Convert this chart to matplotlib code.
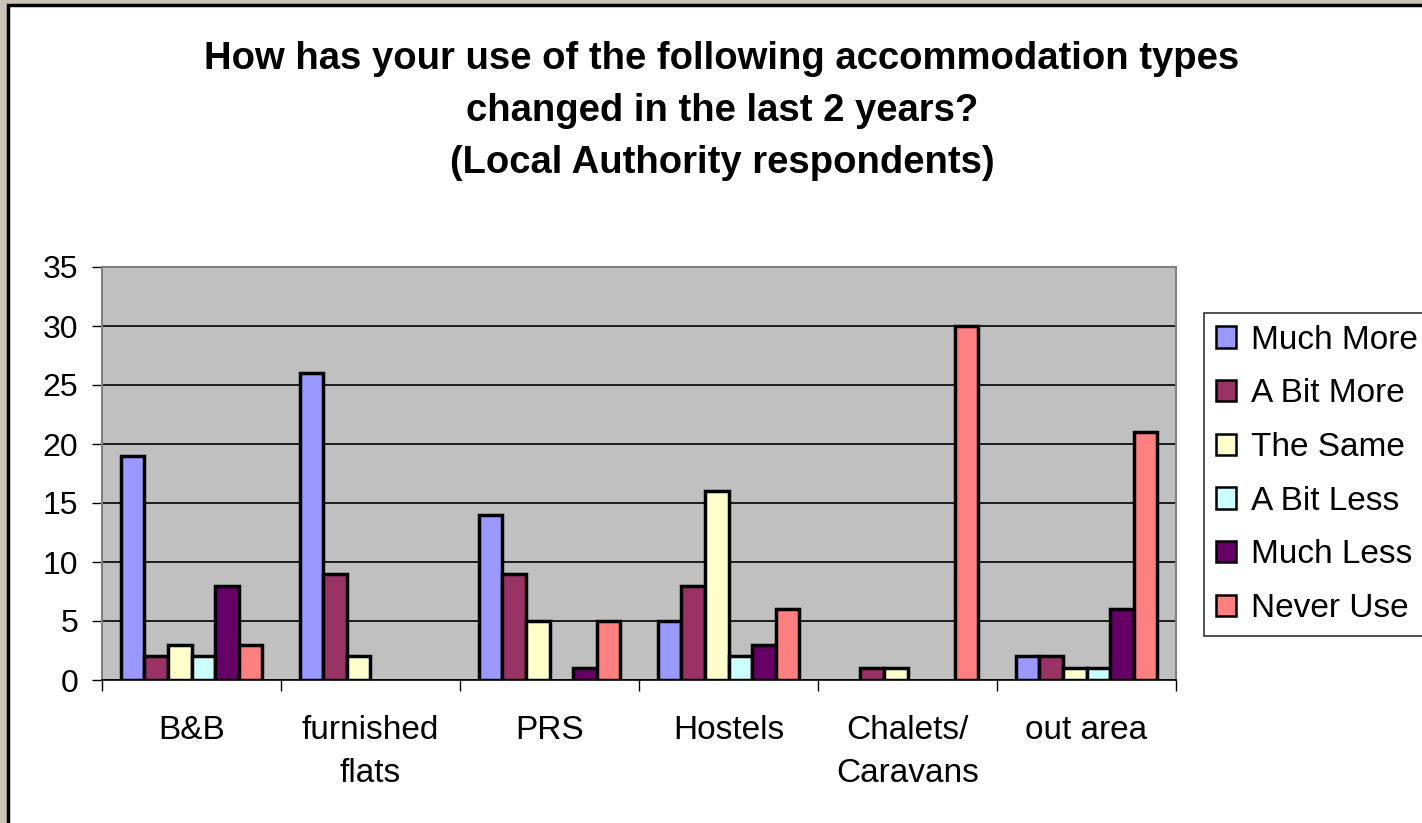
import matplotlib
matplotlib.use('Agg')
import matplotlib.pyplot as plt
import numpy as np
from matplotlib.patches import Rectangle

plt.rcParams['font.family'] = ['Liberation Sans', 'DejaVu Sans']

categories = ['B&B', 'furnished\nflats', 'PRS', 'Hostels', 'Chalets/\nCaravans', 'out area']
series_names = ['Much More', 'A Bit More', 'The Same', 'A Bit Less', 'Much Less', 'Never Use']
much_more = [19, 26, 14, 5, 0, 2]
a_bit_more = [2, 9, 9, 8, 1, 2]
the_same = [3, 2, 5, 16, 1, 1]
a_bit_less = [2, 0, 0, 2, 0, 1]
much_less = [8, 0, 1, 3, 0, 6]
never_use = [3, 0, 5, 6, 30, 21]
colors = ['#9999FF', '#993366', '#FFFFCC', '#CCFFFF', '#660066', '#FF8080']

series = [much_more, a_bit_more, the_same, a_bit_less, much_less, never_use]

fig = plt.figure(figsize=(14.22, 8.23), dpi=100)
fig.patch.set_facecolor('#CCC4B9')
W, H = 1422, 823

# background: white chart area with black frame (cut off at right/bottom)
bg = fig.add_axes([0, 0, 1, 1], zorder=-5)
bg.set_xlim(0, W)
bg.set_ylim(H, 0)
bg.axis('off')
bg.add_patch(Rectangle((8, 5), W + 20, H + 20, facecolor='white',
                       edgecolor='black', linewidth=2.5))

ax = fig.add_axes([102 / W, 1 - 680 / H, (1176 - 102) / W, (680 - 267) / H])
ax.set_facecolor('#C0C0C0')

x = np.arange(len(categories))
bw = 0.132
for i, (vals, name, c) in enumerate(zip(series, series_names, colors)):
    offs = (i - 2.5) * bw
    bars = ax.bar(x + offs, vals, width=bw, color=c, edgecolor='black', linewidth=2.5,
                  label=name, zorder=3)
    # zero values: no visible outline on the baseline
    for b in bars:
        if b.get_height() == 0:
            b.set_visible(False)

ax.set_xlim(-0.5, len(categories) - 0.5)
ax.set_ylim(0, 35)
ax.set_yticks(range(0, 36, 5))
ax.yaxis.grid(True, color='black', linewidth=1.2, zorder=1)
ax.set_axisbelow(True)
ax.tick_params(axis='y', labelsize=23, length=7, width=1, direction='out', pad=10)

ax.set_xticks(x)
ax.set_xticklabels(categories, fontsize=24, linespacing=1.52)
ax.set_xticks(np.arange(-0.5, len(categories), 1), minor=True)
ax.tick_params(axis='x', which='major', length=0, pad=25)
ax.tick_params(axis='x', which='minor', length=8, width=1, direction='out')

for s in ['top', 'right', 'left']:
    ax.spines[s].set_color('#808080')
    ax.spines[s].set_linewidth(1.5)
ax.spines['bottom'].set_color('black')
ax.spines['bottom'].set_linewidth(1.2)
ax.spines['bottom'].set_zorder(4)

fig.text(722 / W, 1 - 111 / H,
         'How has your use of the following accommodation types\nchanged in the last 2 years?\n(Local Authority respondents)',
         ha='center', va='center', fontsize=27.5, fontweight='bold', linespacing=1.58)

leg = fig.legend(loc='upper left', bbox_to_anchor=(1204 / W, 1 - 313 / H),
                 fontsize=24, frameon=True, fancybox=False, edgecolor='black',
                 handlelength=0.6, handleheight=0.6, handletextpad=0.45,
                 labelspacing=0.68, borderpad=0.35, borderaxespad=0)
leg.get_frame().set_linewidth(1.2)
for h in leg.legend_handles:
    h.set_linewidth(1.8)
    h.set_visible(True)

fig.savefig('out.png', dpi=100, facecolor=fig.get_facecolor())
